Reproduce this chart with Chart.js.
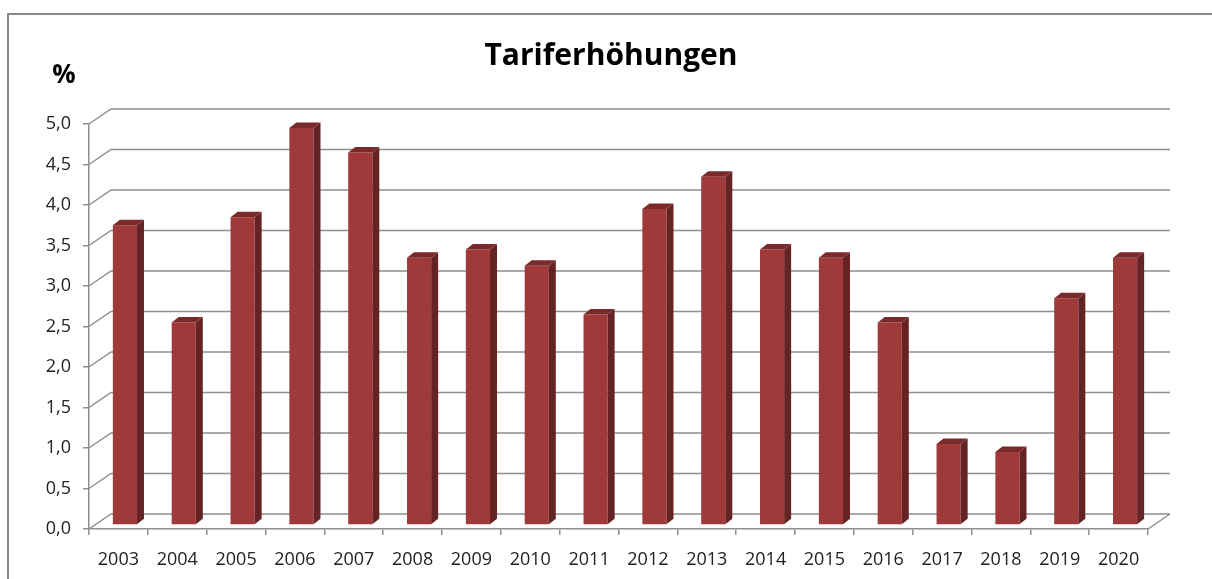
<!DOCTYPE html>
<html lang="de">
<head>
<meta charset="utf-8">
<title>Tariferhöhungen</title>
<script src="https://cdn.jsdelivr.net/npm/chart.js@4.4.0/dist/chart.umd.min.js"></script>
<style>
  html, body { margin: 0; padding: 0; background: #fff; }
  #rahmen { width: 1212px; height: 579px; position: relative; }
</style>
</head>
<body>
<div id="rahmen"><canvas id="graficoTarife"></canvas></div>
<script>
const jahre = ['2003', '2004', '2005', '2006', '2007', '2008', '2009', '2010', '2011',
               '2012', '2013', '2014', '2015', '2016', '2017', '2018', '2019', '2020'];
const erhoehungen = [3.7, 2.5, 3.8, 4.9, 4.6, 3.3, 3.4, 3.2, 2.6,
                     3.9, 4.3, 3.4, 3.3, 2.5, 1.0, 0.9, 2.8, 3.3];
const yTickWerte = [0, 0.5, 1, 1.5, 2, 2.5, 3, 3.5, 4, 4.5, 5];

// Versatz fuer den Pseudo-3D-Effekt (Rueckwand, Balkenebene, Balkentiefe)
const wand = { dx: 22, dy: -15 };
const ebene = { dx: 6.5, dy: -4 };
const tiefe = { dx: 7, dy: -5.5 };
const linie = '#8f8f8f';
const schrift = '"Open Sans"';

const pseudo3d = {
    id: 'pseudo3d',
    beforeDraw(chart) {
        const { ctx, width, height } = chart;
        ctx.save();
        ctx.strokeStyle = '#888888';
        ctx.lineWidth = 2;
        ctx.beginPath();
        ctx.moveTo(8, height);
        ctx.lineTo(8, 14);
        ctx.lineTo(width, 14);
        ctx.stroke();
        ctx.restore();
    },
    beforeDatasetsDraw(chart) {
        const { ctx, chartArea: a, scales: { y } } = chart;
        ctx.save();
        ctx.strokeStyle = linie;
        ctx.lineWidth = 1.5;
        ctx.beginPath();
        y.ticks.forEach(t => {
            const py = y.getPixelForValue(t.value);
            ctx.moveTo(a.left, py);
            ctx.lineTo(a.left + wand.dx, py + wand.dy);
            ctx.lineTo(a.right + wand.dx, py + wand.dy);
        });
        // rechte Bodenkante
        ctx.moveTo(a.right, a.bottom);
        ctx.lineTo(a.right + wand.dx, a.bottom + wand.dy);
        ctx.stroke();
        ctx.restore();

        // Balken etwas nach hinten schieben
        ctx.save();
        ctx.translate(ebene.dx, ebene.dy);
    },
    afterDatasetsDraw(chart) {
        const { ctx } = chart;
        chart.getDatasetMeta(0).data.forEach(bar => {
            const { x, y, base, width } = bar.getProps(['x', 'y', 'base', 'width'], true);
            const l = x - width / 2, r = x + width / 2;
            // Seitenflaeche
            ctx.fillStyle = '#662323';
            ctx.beginPath();
            ctx.moveTo(r, base);
            ctx.lineTo(r, y);
            ctx.lineTo(r + tiefe.dx, y + tiefe.dy);
            ctx.lineTo(r + tiefe.dx, base + tiefe.dy);
            ctx.closePath();
            ctx.fill();
            // Deckflaeche
            ctx.fillStyle = '#7a2a2a';
            ctx.beginPath();
            ctx.moveTo(l, y);
            ctx.lineTo(r, y);
            ctx.lineTo(r + tiefe.dx, y + tiefe.dy);
            ctx.lineTo(l + tiefe.dx, y + tiefe.dy);
            ctx.closePath();
            ctx.fill();
        });
        ctx.restore();
    },
    afterDraw(chart) {
        const { ctx } = chart;
        ctx.save();
        ctx.fillStyle = '#000';
        ctx.font = 'bold 26px ' + schrift;
        ctx.textAlign = 'center';
        ctx.textBaseline = 'middle';
        ctx.fillText('%', 64, 76);
        ctx.restore();
    }
};

const ctx = document.getElementById('graficoTarife').getContext('2d');
const grafico = new Chart(ctx, {
    type: 'bar',
    data: {
        labels: jahre,
        datasets: [{
            label: 'Tariferhöhungen',
            data: erhoehungen,
            backgroundColor: '#a03a3a',
            borderWidth: 0,
            barPercentage: 0.41,
            categoryPercentage: 1.0
        }]
    },
    plugins: [pseudo3d],
    options: {
        responsive: true,
        maintainAspectRatio: false,
        animation: false,
        layout: {
            padding: { left: 10, right: 0, top: 0, bottom: 0 }
        },
        scales: {
            x: {
                grid: {
                    display: true,
                    drawOnChartArea: false,
                    tickLength: 6,
                    color: linie,
                    lineWidth: 1.5
                },
                border: { display: true, color: linie, width: 1.5 },
                ticks: {
                    font: { family: schrift, size: 18 },
                    color: '#222222',
                    padding: 14,
                    maxRotation: 0,
                    autoSkip: false
                },
                afterFit(axis) { axis.height = 50; }
            },
            y: {
                min: 0,
                max: 5,
                afterBuildTicks(axis) {
                    axis.ticks = yTickWerte.map(v => ({ value: v }));
                },
                grid: {
                    drawOnChartArea: false,
                    tickLength: 6,
                    color: linie,
                    lineWidth: 1.5
                },
                border: { display: true, color: linie, width: 1.5 },
                ticks: {
                    font: { family: schrift, size: 18 },
                    color: '#222222',
                    padding: 12,
                    callback: v => v.toFixed(1).replace('.', ',')
                },
                afterFit(axis) { axis.width = 79; }
            },
            // leerer Platzhalter rechts fuer die Tiefe der Rueckwand
            rechts: {
                position: 'right',
                display: true,
                grid: { display: false },
                border: { display: false },
                ticks: { display: false },
                afterFit(axis) { axis.width = 64; }
            }
        },
        plugins: {
            legend: { display: false },
            tooltip: { enabled: false },
            title: {
                display: true,
                text: 'Tariferhöhungen',
                color: '#000',
                font: { family: schrift, size: 30, weight: 'bold', lineHeight: 1.2 },
                padding: { top: 38, bottom: 50 }
            }
        }
    }
});
</script>
</body>
</html>
